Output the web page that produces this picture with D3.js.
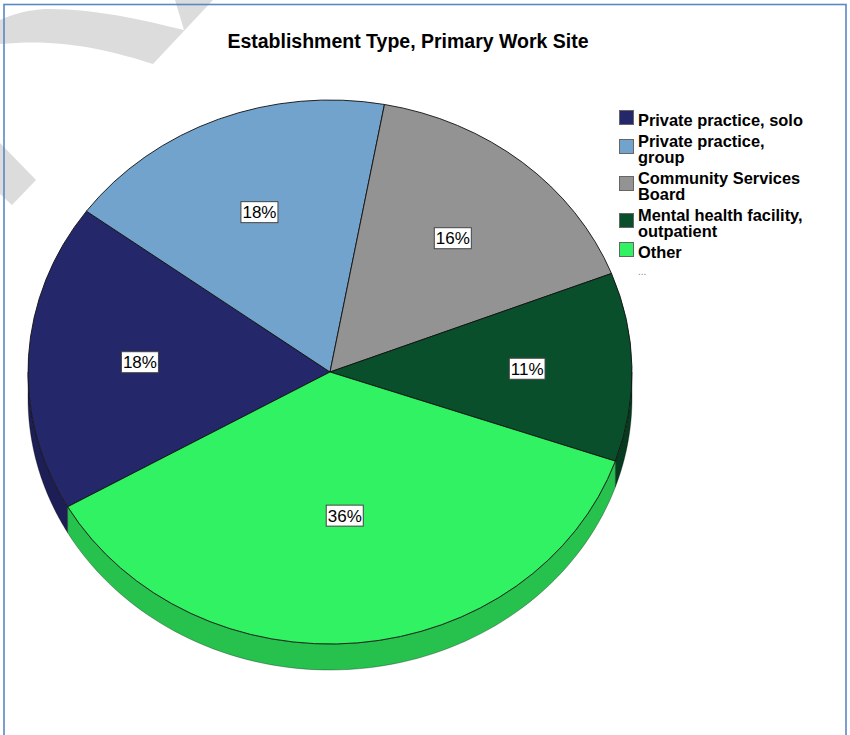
<!doctype html>
<html>
<head>
<meta charset="utf-8">
<script src="https://cdnjs.cloudflare.com/ajax/libs/d3/7.8.5/d3.min.js"></script>
<style>
body { margin: 0; background: #fff; }
text { font-family: "Liberation Sans", Arial, sans-serif; }
</style>
</head>
<body>
<svg width="850" height="735"></svg>
<script>
// slice values (percent of respondents)
var categories = ["Private practice, solo", "Private practice, group", "Community Services Board",
                  "Mental health facility, outpatient", "Other"];
var legendLines = [["Private practice, solo"], ["Private practice,", "group"], ["Community Services", "Board"],
                   ["Mental health facility,", "outpatient"], ["Other"]];
var percents = [18.3, 17.8, 16.2, 11.2, 36.4];
var colors = ["#25276b", "#72a3cd", "#939393", "#0a4f2b", "#30f263"];
var sideColors = ["#1c1e55", "#5a84a8", "#767676", "#063b1f", "#27c24e"];

var svg = d3.select("svg");

// faint watermark behind the chart
svg.append("path")
  .attr("d", "M0,20 C15,13 30,10 45,9 C90,8 140,19 184,30 L175,0 L213,0 L153,64 C110,50 60,38 0,44 Z")
  .attr("fill", "#dcdcdc");
svg.append("path")
  .attr("d", "M0,143 L36,180 L12,205 L0,194 Z")
  .attr("fill", "#dcdcdc");

// frame
svg.append("rect")
  .attr("x", 4).attr("y", 4.5).attr("width", 842).attr("height", 740)
  .attr("fill", "none").attr("stroke", "#5b87c6").attr("stroke-width", 1.6);

svg.append("text")
  .attr("x", 408).attr("y", 48)
  .attr("text-anchor", "middle")
  .style("font-size", "19.5px").style("font-weight", "bold")
  .text("Establishment Type, Primary Work Site");

var cx = 330, cy = 372, rx = 302, ry = 272, depth = 26;
var start = 240.3 * Math.PI / 180;
var pie = d3.pie().sort(null).startAngle(start).endAngle(start + 2 * Math.PI);
var arcs = pie(percents);

function ept(a, dy) {
  return [cx + rx * Math.sin(a), cy - ry * Math.cos(a) + dy];
}

// side walls of the front half
var sideG = svg.append("g");
arcs.forEach(function(d, i) {
  [0, 1].forEach(function(k) {
    var lo = Math.max(d.startAngle, Math.PI / 2 + k * 2 * Math.PI);
    var hi = Math.min(d.endAngle, 3 * Math.PI / 2 + k * 2 * Math.PI);
    if (hi <= lo) return;
    var pts = [];
    var n = 80;
    for (var j = 0; j <= n; j++) pts.push(ept(lo + (hi - lo) * j / n, 0));
    for (var j = n; j >= 0; j--) pts.push(ept(lo + (hi - lo) * j / n, depth));
    sideG.append("path")
      .attr("d", d3.line()(pts) + "Z")
      .attr("fill", sideColors[i])
      .attr("stroke", "#000").attr("stroke-opacity", 0.5).attr("stroke-width", 0.6);
  });
});

// top face
var arc = d3.arc().innerRadius(0).outerRadius(rx);
svg.append("g")
  .attr("transform", "translate(" + cx + "," + cy + ") scale(1," + (ry / rx) + ")")
  .selectAll("path").data(arcs).enter()
  .append("path")
  .attr("d", arc)
  .attr("fill", (d, i) => colors[i])
  .attr("stroke", "#111").attr("stroke-width", 0.9)
  .attr("vector-effect", "non-scaling-stroke");

// percent labels at each sector's centroid
var total = d3.sum(percents);
var labG = svg.append("g");
arcs.forEach(function(d, i) {
  var th = d.endAngle - d.startAngle;
  var f = 4 * Math.sin(th / 2) / (3 * th);
  var mid = (d.startAngle + d.endAngle) / 2;
  var p = [cx + rx * f * Math.sin(mid), cy - ry * f * Math.cos(mid)];
  var g = labG.append("g").attr("transform", "translate(" + p[0] + "," + p[1] + ")");
  var t = g.append("text")
    .attr("text-anchor", "middle").attr("y", 6)
    .style("font-size", "17px").attr("fill", "#000")
    .text(Math.round(d.value / total * 100) + "%");
  var w = t.node().getComputedTextLength();
  g.insert("rect", "text")
    .attr("x", -w / 2 - 1.5).attr("y", -10.5)
    .attr("width", w + 3).attr("height", 21)
    .attr("fill", "#fff").attr("stroke", "#444").attr("stroke-width", 1);
});

// legend (wrapped entries as one text with tspans)
var lg = svg.append("g");
var base = 126;
legendLines.forEach(function(lines, i) {
  var bl = lines.map((s, j) => base + j * 16);
  var mid = d3.mean(bl) - 8;
  lg.append("rect")
    .attr("x", 619.5).attr("y", mid - 7.5).attr("width", 14).attr("height", 14)
    .attr("fill", colors[i]).attr("stroke", "#666").attr("stroke-width", 1);
  var t = lg.append("text")
    .attr("x", 638).attr("y", bl[0])
    .style("font-size", "16.4px").style("font-weight", "bold");
  lines.forEach(function(s, j) {
    t.append("tspan")
      .attr("x", 638).attr("dy", j === 0 ? 0 : 16)
      .text(s);
  });
  base = bl[bl.length - 1] + 21;
});
lg.append("text")
  .attr("x", 638).attr("y", base - 4)
  .style("font-size", "10px").attr("fill", "#888")
  .text("...");
</script>
</body>
</html>
